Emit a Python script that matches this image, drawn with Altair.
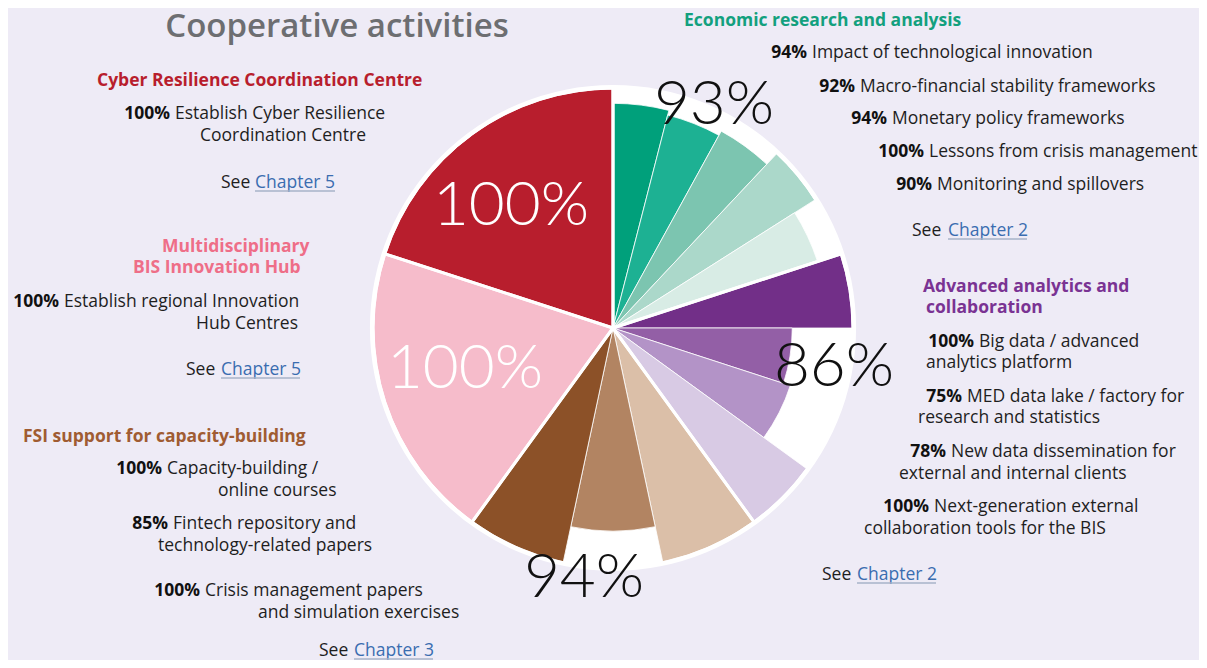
import altair as alt
import pandas as pd
import math

# ---------------- data ----------------
group_names = ["Economic research and analysis", "Advanced analytics and collaboration",
               "FSI support for capacity-building", "Multidisciplinary BIS Innovation Hub",
               "Cyber Resilience Coordination Centre"]
group_title_lines = [["Economic research and analysis"],
                     ["Advanced analytics and", "collaboration"],
                     ["FSI support for capacity-building"],
                     ["Multidisciplinary", "BIS Innovation Hub"],
                     ["Cyber Resilience Coordination Centre"]]
group_overall = [93, 86, 94, 100, 100]
group_chapter = ["Chapter 2", "Chapter 2", "Chapter 3", "Chapter 5", "Chapter 5"]

econ_items = [["Impact of technological innovation"], ["Macro-financial stability frameworks"],
              ["Monetary policy frameworks"], ["Lessons from crisis management"],
              ["Monitoring and spillovers"]]
econ_pct = [94, 92, 94, 100, 90]
adv_items = [["Big data / advanced", "analytics platform"],
             ["MED data lake / factory for", "research and statistics"],
             ["New data dissemination for", "external and internal clients"],
             ["Next-generation external", "collaboration tools for the BIS"]]
adv_pct = [100, 75, 78, 100]
fsi_items = [["Capacity-building /", "online courses"],
             ["Fintech repository and", "technology-related papers"],
             ["Crisis management papers", "and simulation exercises"]]
fsi_pct = [100, 85, 100]
hub_items = [["Establish regional Innovation", "Hub Centres"]]
hub_pct = [100]
cyber_items = [["Establish Cyber Resilience", "Coordination Centre"]]
cyber_pct = [100]

group_items = [econ_items, adv_items, fsi_items, hub_items, cyber_items]
group_pcts = [econ_pct, adv_pct, fsi_pct, hub_pct, cyber_pct]

# ---------------- styles ----------------
slice_colors = [
    ["#00a07b", "#1db193", "#7cc5b0", "#abd8ca", "#d8ece5"],
    ["#722f88", "#935fa6", "#b393c7", "#d8cae4"],
    ["#dbbfa8", "#b28462", "#8c5128"],
    ["#f6bccb"],
    ["#b81e2d"],
]
head_colors = ["#13a07e", "#7a3393", "#a05c32", "#ee6e88", "#b81e2d"]
big_colors = ["#111111", "#111111", "#111111", "#ffffff", "#ffffff"]
BG = "#eeebf6"
TXT = "#1e1e1e"
LINK = "#3a6db0"
FONT = "Open Sans"
BODY = 17.5
HEAD = 17.5

# ---------------- layout (page pixels) ----------------
OFF = 8
CX, CY = 613, 328
R100 = 239
RBG = 243
title_pos = (337, 37)
head_pos = [[(684, 26)], [(923, 292), (926, 313)], [(23, 442)],
            [(162, 252), (133, 273)], [(97, 86)]]
item_pos = [
    [[(812, 58)], [(860, 92)], [(892, 124)], [(929, 157)], [(937, 190)]],
    [[(979, 347), (926, 368)], [(967, 402), (918, 423)],
     [(951, 457), (899, 479)], [(934, 512), (864, 534)]],
    [[(167, 474), (218, 496)], [(173, 529), (158, 551)], [(205, 596), (258, 618)]],
    [[(64, 307), (196, 329)]],
    [[(175, 119), (200, 141)]],
]
see_pos = [(912, 948, 1027, 236), (822, 857, 936, 580), (319, 354, 433, 656),
           (186, 221, 300, 375), (221, 255, 335, 188)]
big_pos = [(714, 124), (834, 386), (584, 597), (511, 225), (465, 388)]


def P(v):
    return v - OFF


# ---------------- tables ----------------
slice_rows = []
k = 0
for g in range(len(group_names)):
    n = len(group_pcts[g])
    for i in range(n):
        slice_rows.append({"group": group_names[g], "item": " ".join(group_items[g][i]),
                           "pct": group_pcts[g][i], "w": 1.0 / n, "idx": k,
                           "color": slice_colors[g][i]})
        k += 1
slices_df = pd.DataFrame(slice_rows)
groups_df = pd.DataFrame({"group": group_names, "w": [1.0] * len(group_names),
                          "idx": list(range(len(group_names)))})

pct_rows, body_rows, head_rows, see_rows, link_rows, ul_rows, big_rows = [], [], [], [], [], [], []
for g in range(len(group_names)):
    for j, line in enumerate(group_title_lines[g]):
        x, y = head_pos[g][j]
        head_rows.append({"text": line, "x": P(x), "y": P(y), "color": head_colors[g]})
    for i, lines in enumerate(group_items[g]):
        x0, y0 = item_pos[g][i][0]
        pct_rows.append({"text": f"{group_pcts[g][i]}%", "x": P(x0 - 5), "y": P(y0)})
        for j, line in enumerate(lines):
            x, y = item_pos[g][i][j]
            body_rows.append({"text": line, "x": P(x), "y": P(y)})
    sx, cx, cx2, sy = see_pos[g]
    see_rows.append({"text": "See", "x": P(sx), "y": P(sy)})
    link_rows.append({"text": group_chapter[g], "x": P(cx), "y": P(sy)})
    ul_rows.append({"x": P(cx), "x2": P(cx2), "y": P(sy + 3)})
    bx, by = big_pos[g]
    big_rows.append({"text": f"{group_overall[g]}%", "x": P(bx), "y": P(by), "color": big_colors[g]})

XS = dict(scale=None, axis=None)
THETA_SCALE = alt.Scale(domain=[0, len(group_names)], range=[0, 2 * math.pi])

# ---------------- marks ----------------
bg_circle = alt.Chart(alt.Data(values=[{"a": 1}])).mark_arc(
    fill="white", theta=0, theta2=2 * math.pi, radius=RBG
).encode(x=alt.value(P(CX)), y=alt.value(P(CY)))


def wedges(df):
    return alt.Chart(df).transform_window(
        cum="sum(w)", sort=[alt.SortField("idx", order="ascending")], frame=[None, 0]
    ).transform_calculate(start="datum.cum - datum.w")


slices = wedges(slices_df).mark_arc(stroke="white", strokeWidth=0.8).encode(
    theta=alt.Theta("start:Q", scale=THETA_SCALE, stack=None),
    theta2="cum:Q",
    radius=alt.Radius("pct:Q", scale=alt.Scale(type="linear", domain=[0, 100], range=[0, R100])),
    color=alt.Color("color:N", scale=None),
    x=alt.value(P(CX)), y=alt.value(P(CY)),
)

group_lines = wedges(groups_df).mark_arc(
    fillOpacity=0, stroke="white", strokeWidth=3, radius=R100 + 1
).encode(
    theta=alt.Theta("start:Q", scale=THETA_SCALE, stack=None),
    theta2="cum:Q",
    x=alt.value(P(CX)), y=alt.value(P(CY)),
)


def txt(df, **kw):
    base = dict(font=FONT, baseline="alphabetic")
    base.update(kw)
    return alt.Chart(pd.DataFrame(df)).mark_text(**base).encode(
        x=alt.X("x:Q", **XS), y=alt.Y("y:Q", **XS), text="text:N")


title = alt.Chart(pd.DataFrame([{"text": "Cooperative activities", "x": P(title_pos[0]), "y": P(title_pos[1])}])).mark_text(
    font=FONT, fontWeight=600, fontSize=33, color="#6d6e71", align="center", baseline="alphabetic"
).encode(x=alt.X("x:Q", **XS), y=alt.Y("y:Q", **XS), text="text:N")

heads = alt.Chart(pd.DataFrame(head_rows)).mark_text(
    font=FONT, fontWeight="bold", fontSize=HEAD, align="left", baseline="alphabetic"
).encode(x=alt.X("x:Q", **XS), y=alt.Y("y:Q", **XS), text="text:N",
         color=alt.Color("color:N", scale=None))

pcts = txt(pct_rows, fontWeight="bold", fontSize=BODY, align="right", color="#111111")
body = txt(body_rows, fontSize=BODY, align="left", color=TXT)
sees = txt(see_rows, fontSize=BODY, align="left", color=TXT)
links = txt(link_rows, fontSize=BODY, align="left", color=LINK)
underline = alt.Chart(pd.DataFrame(ul_rows)).mark_rule(color="#a7b3c9", strokeWidth=1.5).encode(
    x=alt.X("x:Q", **XS), x2="x2:Q", y=alt.Y("y:Q", **XS))

bigs = alt.Chart(pd.DataFrame(big_rows)).mark_text(
    font="Lato", fontWeight=300, fontSize=62, align="center", baseline="alphabetic"
).encode(x=alt.X("x:Q", **XS), y=alt.Y("y:Q", **XS), text="text:N",
         color=alt.Color("color:N", scale=None))

chart = alt.layer(bg_circle, slices, group_lines, bigs, title, heads, pcts, body, sees, links, underline).properties(
    width=1191, height=652, padding=0, autosize="none", background=BG
).configure_view(stroke=None)

chart.save("out.html", embed_options={"renderer": "svg", "actions": False})
